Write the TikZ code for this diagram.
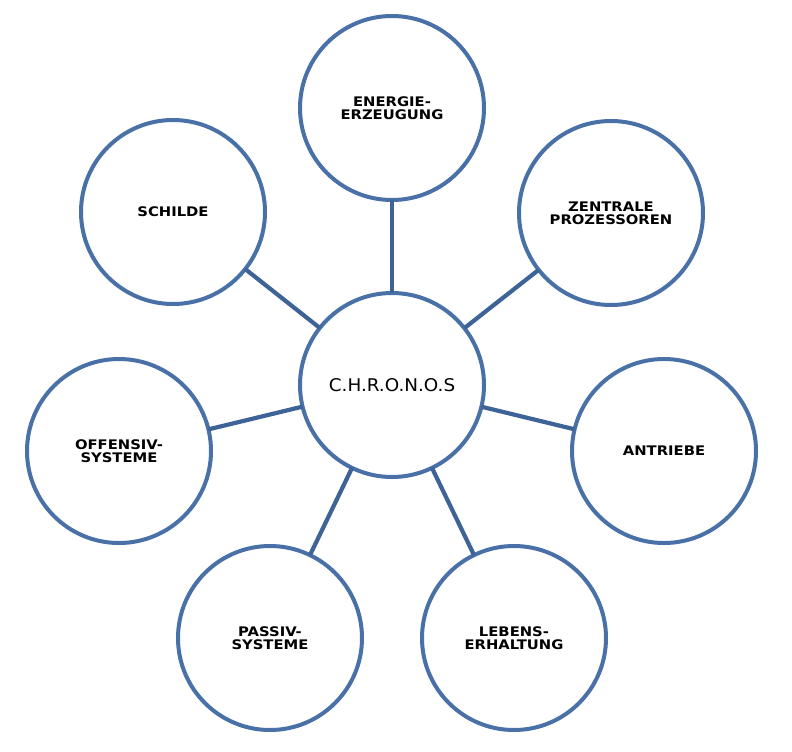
\documentclass[tikz,border=0pt]{standalone}
\usepackage{fontspec}
\newfontfamily\labfont[FakeStretch=1.12]{DejaVu Sans Bold}
\newfontfamily\hubfont[FakeStretch=1.05]{DejaVu Sans}
\definecolor{ringblue}{RGB}{73,112,167}
\definecolor{spokeblue}{RGB}{62,99,150}
\tikzset{
  ring/.style={circle, draw=ringblue, line width=4bp, fill=white, minimum size=184bp,
    inner sep=0pt, outer sep=0pt, align=center,
    font=\labfont\fontsize{13.2bp}{13bp}\selectfont},
  hub/.style={ring, font=\hubfont\fontsize{17.5bp}{18bp}\selectfont},
  spoke/.style={draw=spokeblue, line width=4.2bp}
}
\begin{document}
\begin{tikzpicture}[x=1bp,y=-1bp]
\useasboundingbox (0,0) rectangle (792,752);
\node[hub]  (ch) at (392,385) {C.H.R.O.N.O.S};
\node[ring] (en) at (392,108) {ENERGIE-\\ERZEUGUNG};
\node[ring] (sc) at (173,212) {SCHILDE};
\node[ring] (ze) at (611,213) {ZENTRALE\\PROZESSOREN};
\node[ring] (of) at (119,451) {OFFENSIV-\\SYSTEME};
\node[ring] (an) at (664,451) {ANTRIEBE};
\node[ring] (pa) at (270,638) {PASSIV-\\SYSTEME};
\node[ring] (le) at (514,638) {LEBENS-\\ERHALTUNG};
\foreach \n in {en,sc,ze,of,an,pa,le}{
  \draw[spoke] (ch) -- (\n);
}
\end{tikzpicture}
\end{document}
